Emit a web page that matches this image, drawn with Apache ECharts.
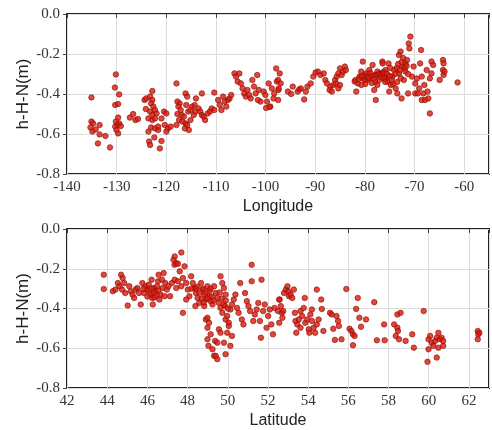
<!DOCTYPE html>
<html>
<head>
<meta charset="utf-8">
<script src="https://cdn.jsdelivr.net/npm/echarts@6/dist/echarts.min.js"></script>
<style>
  html, body { margin: 0; padding: 0; background: #fff; }
  #chart { width: 492px; height: 430px; }
</style>
</head>
<body>
<div id="chart"></div>
<script>
// h-H-N residuals against longitude (top panel), [longitude, value]
var lonPoints = [
  [-130.16,-0.302],[-135.08,-0.417],[-130.35,-0.368],[-129.5,-0.402],[-130.29,-0.455],[-129.7,-0.45],
  [-135.08,-0.538],[-134.75,-0.547],[-135.28,-0.567],[-134.88,-0.588],[-134.23,-0.577],[-133.44,-0.555],
  [-133.44,-0.602],[-132.26,-0.61],[-133.77,-0.647],[-131.34,-0.667],
  [-130.16,-0.538],[-129.83,-0.555],[-130.29,-0.563],[-129.5,-0.547],[-129.17,-0.56],[-130.03,-0.58],[-129.7,-0.518],[-129.7,-0.597],
  [-127.34,-0.518],[-126.68,-0.5],[-126.22,-0.53],[-125.7,-0.525],
  [-124.38,-0.43],[-124.06,-0.422],[-124.12,-0.475],
  [-122.81,-0.385],[-123.27,-0.413],[-122.81,-0.43],[-123.07,-0.447],[-122.61,-0.463],[-123.27,-0.488],[-122.28,-0.48],
  [-122.81,-0.505],[-123.6,-0.522],[-121.96,-0.497],[-122.81,-0.53],[-122.28,-0.522],
  [-123.6,-0.588],[-123.07,-0.567],[-122.28,-0.572],[-121.63,-0.58],
  [-123.46,-0.638],[-123.27,-0.655],[-122.41,-0.617],[-121.3,-0.672],[-120.97,-0.635],
  [-121.63,-0.563],[-120.97,-0.522],[-120.45,-0.488],[-119.99,-0.497],[-120.31,-0.555],[-119.66,-0.572],[-119.99,-0.588],[-119.13,-0.563],
  [-117.95,-0.347],[-117.76,-0.438],[-117.3,-0.447],[-117.56,-0.463],[-117.1,-0.48],[-117.76,-0.5],[-116.9,-0.505],[-117.43,-0.53],
  [-117.95,-0.555],[-116.77,-0.538],[-116.44,-0.513],[-116.12,-0.547],[-116.25,-0.572],[-115.46,-0.58],[-115.79,-0.555],[-115.13,-0.53],
  [-115.59,-0.488],[-115.98,-0.455],[-116.12,-0.397],[-115.79,-0.413],[-114.8,-0.463],[-115.13,-0.48],[-114.47,-0.505],[-114.15,-0.488],
  [-114.02,-0.422],[-114.28,-0.455],[-113.49,-0.472],[-113.16,-0.488],[-112.83,-0.505],[-112.18,-0.53],[-112.5,-0.513],[-111.65,-0.497],
  [-111.2,-0.488],[-110.87,-0.472],[-110.34,-0.48],[-112.83,-0.397],[-110.34,-0.393],[-109.56,-0.43],[-109.23,-0.455],[-108.9,-0.48],
  [-108.57,-0.413],[-108.24,-0.438],[-107.91,-0.463],[-107.59,-0.43],[-107.26,-0.422],[-106.93,-0.405],
  [-106.27,-0.297],[-105.95,-0.313],[-105.62,-0.338],[-105.29,-0.297],[-104.96,-0.347],[-104.63,-0.372],[-104.3,-0.397],
  [-103.98,-0.413],[-103.65,-0.38],[-103.32,-0.405],[-102.99,-0.422],[-102.66,-0.33],[-102.33,-0.363],[-102.0,-0.397],
  [-101.68,-0.305],[-101.55,-0.43],[-101.02,-0.438],[-101.35,-0.38],[-100.37,-0.388],[-100.04,-0.405],[-99.71,-0.438],
  [-99.38,-0.347],[-99.05,-0.463],[-98.73,-0.372],[-98.4,-0.422],[-97.87,-0.272],[-97.74,-0.338],[-97.41,-0.38],[-98.27,-0.397],
  [-99.9,-0.47],[-99.2,-0.465],
  [-97.15,-0.297],[-97.48,-0.33],[-96.96,-0.347],[-97.35,-0.372],[-97.48,-0.43],[-95.51,-0.388],[-94.86,-0.4],[-94.53,-0.363],
  [-93.54,-0.388],[-93.21,-0.377],[-92.89,-0.372],[-92.23,-0.427],[-91.9,-0.388],[-91.57,-0.363],[-90.92,-0.347],[-90.39,-0.313],
  [-89.93,-0.293],[-89.47,-0.288],[-88.95,-0.305],[-88.29,-0.297],[-87.97,-0.33],[-87.64,-0.347],[-86.98,-0.363],[-87.11,-0.38],
  [-86.65,-0.388],[-86.33,-0.355],[-86.0,-0.33],[-85.67,-0.313],[-85.34,-0.297],[-85.01,-0.272],[-84.68,-0.305],[-84.36,-0.288],
  [-84.03,-0.263],[-83.83,-0.28],[-85.8,-0.347],[-85.34,-0.372],[-85.01,-0.355],
  [-82.06,-0.338],[-81.73,-0.388],[-81.4,-0.347],[-81.08,-0.313],[-80.75,-0.288],[-80.42,-0.238],[-80.29,-0.322],[-80.09,-0.305],
  [-79.76,-0.297],[-79.44,-0.33],[-79.11,-0.28],[-78.78,-0.313],[-78.45,-0.255],[-78.12,-0.38],[-77.93,-0.305],[-77.8,-0.43],
  [-77.47,-0.288],[-77.14,-0.33],[-76.81,-0.297],[-76.48,-0.238],[-76.15,-0.322],[-75.83,-0.28],
  [-81.9,-0.33],[-81.2,-0.325],[-80.6,-0.31],[-80.0,-0.33],[-79.6,-0.315],[-79.2,-0.32],[-78.9,-0.295],[-78.5,-0.31],[-78.2,-0.325],
  [-77.9,-0.34],[-77.6,-0.305],[-77.2,-0.3],[-76.9,-0.315],[-76.6,-0.3],[-76.3,-0.29],[-79.9,-0.35],[-80.7,-0.355],[-78.6,-0.345],[-77.5,-0.355],
  [-76.42,-0.247],[-76.09,-0.297],[-75.76,-0.322],[-75.44,-0.338],[-75.11,-0.388],[-74.78,-0.355],[-75.24,-0.247],[-74.45,-0.313],
  [-74.12,-0.28],[-73.8,-0.372],[-73.47,-0.397],[-73.14,-0.297],[-73.14,-0.205],[-72.81,-0.188],[-72.61,-0.422],[-72.48,-0.263],
  [-72.15,-0.33],[-71.83,-0.247],[-71.83,-0.288],[-71.5,-0.23],[-71.3,-0.397],[-71.17,-0.147],[-71.04,-0.172],[-70.84,-0.113],
  [-70.51,-0.313],[-70.19,-0.263],[-69.86,-0.347],[-69.86,-0.397],[-69.53,-0.322],[-69.33,-0.397],[-69.07,-0.372],[-68.87,-0.247],
  [-68.68,-0.18],[-68.55,-0.43],[-68.55,-0.313],[-68.22,-0.397],[-68.02,-0.355],[-67.89,-0.43],[-67.56,-0.28],[-67.37,-0.388],
  [-67.23,-0.422],[-66.91,-0.322],[-66.91,-0.497],[-66.58,-0.238],[-66.58,-0.297],[-66.25,-0.255],[-64.94,-0.33],[-64.28,-0.23],
  [-64.15,-0.247],[-64.28,-0.28],[-64.15,-0.305],[-63.95,-0.288],[-61.33,-0.342],
  [-76.2,-0.32],[-75.9,-0.34],[-75.5,-0.3],[-75.0,-0.31],[-74.6,-0.33],[-74.3,-0.35],[-73.9,-0.3],[-73.6,-0.27],[-73.3,-0.25],
  [-72.9,-0.28],[-72.6,-0.24],[-72.3,-0.22],[-72.0,-0.27],[-71.6,-0.26],[-71.3,-0.3],[-74.9,-0.27],[-73.5,-0.34],[-72.8,-0.32]
];

// same residuals against latitude (bottom panel), [latitude, value]
var latPoints = [
  [43.83,-0.23],[43.83,-0.302],[44.28,-0.313],[44.41,-0.305],[44.53,-0.272],[44.61,-0.288],[44.69,-0.23],[44.77,-0.247],
  [44.85,-0.272],[44.74,-0.305],[44.9,-0.322],[45.02,-0.385],[45.1,-0.288],[45.18,-0.313],[45.26,-0.33],[45.34,-0.347],
  [45.42,-0.305],[45.5,-0.297],[45.59,-0.322],[45.67,-0.38],[45.75,-0.272],[45.83,-0.322],[45.91,-0.288],[45.99,-0.305],
  [46.07,-0.28],[46.16,-0.33],[46.21,-0.255],[46.24,-0.347],[46.27,-0.38],[46.32,-0.297],[46.4,-0.313],[46.48,-0.288],
  [46.53,-0.263],[46.56,-0.23],[46.6,-0.355],[46.65,-0.33],[46.73,-0.255],[46.76,-0.297],[46.81,-0.222],[46.86,-0.338],
  [46.89,-0.272],[46.97,-0.305],[47.05,-0.288],[47.13,-0.338],[47.22,-0.272],[47.3,-0.155],[47.35,-0.18],
  [46.1,-0.31],[46.3,-0.32],[46.45,-0.335],[46.2,-0.3],[46.55,-0.31],[46.35,-0.345],[45.8,-0.3],[46.0,-0.34],
  [47.36,-0.138],[47.69,-0.118],[47.44,-0.172],[47.52,-0.175],[47.85,-0.188],[47.61,-0.213],[47.36,-0.255],[47.52,-0.263],
  [47.77,-0.247],[47.44,-0.297],[47.69,-0.288],[47.93,-0.272],[48.01,-0.305],[48.09,-0.338],[47.93,-0.355],[48.18,-0.238],
  [48.26,-0.272],[48.34,-0.297],[48.42,-0.322],[48.5,-0.347],[48.58,-0.372],[48.39,-0.388],[48.67,-0.272],[48.75,-0.305],
  [48.83,-0.33],[48.91,-0.355],[48.99,-0.288],[49.07,-0.338],[49.15,-0.363],[49.24,-0.38],[48.83,-0.388],[49.32,-0.288],
  [49.4,-0.322],[49.48,-0.347],[49.56,-0.372],[49.64,-0.238],[49.73,-0.272],[49.81,-0.297],[49.89,-0.33],[49.64,-0.397],
  [49.73,-0.422],[49.86,-0.388],[49.89,-0.455],[49.97,-0.438],[50.05,-0.472],[50.13,-0.405],[50.21,-0.38],[50.3,-0.355],
  [50.38,-0.33],[50.46,-0.397],[50.54,-0.422],[50.62,-0.272],[50.7,-0.455],[50.78,-0.48],[50.86,-0.322],[50.95,-0.363],
  [51.03,-0.388],[51.11,-0.413],[51.19,-0.18],[51.19,-0.263],[51.27,-0.463],[51.35,-0.43],[51.44,-0.405],[51.52,-0.372],
  [51.6,-0.463],[51.65,-0.547],[51.68,-0.255],[51.76,-0.413],[51.84,-0.38],[51.93,-0.497],[52.01,-0.438],[52.09,-0.405],
  [52.17,-0.48],[52.25,-0.53],[52.33,-0.397],[52.5,-0.413],[52.58,-0.355],
  [48.91,-0.455],[48.99,-0.497],[49.07,-0.472],[48.99,-0.555],[49.04,-0.588],[49.15,-0.53],[49.24,-0.605],[49.32,-0.638],
  [49.37,-0.563],[49.48,-0.572],[49.56,-0.505],[49.64,-0.522],[49.81,-0.572],[49.89,-0.63],[49.97,-0.522],[50.05,-0.488],
  [50.13,-0.588],[50.21,-0.538],[47.77,-0.422],[48.99,-0.447],[49.48,-0.655],[49.4,-0.638],
  [48.6,-0.32],[48.7,-0.35],[48.8,-0.3],[48.9,-0.32],[49.0,-0.35],[49.1,-0.31],[49.2,-0.34],[49.3,-0.36],[48.5,-0.29],
  [49.7,-0.35],[49.8,-0.38],[49.9,-0.36],[50.0,-0.4],[49.6,-0.32],[48.4,-0.3],[48.2,-0.3],[48.8,-0.37],[49.15,-0.3],
  [52.56,-0.355],[52.64,-0.388],[52.69,-0.422],[52.72,-0.447],[52.8,-0.322],[52.89,-0.305],[52.97,-0.288],[53.02,-0.313],
  [53.05,-0.338],[53.13,-0.33],[53.21,-0.347],[53.29,-0.305],[52.56,-0.472],[52.76,-0.413],[53.34,-0.422],[53.37,-0.463],
  [53.46,-0.48],[53.41,-0.522],[53.54,-0.455],[53.62,-0.497],[53.62,-0.413],[53.7,-0.438],[53.78,-0.397],[53.83,-0.347],
  [53.86,-0.472],[53.95,-0.455],[54.03,-0.505],[54.06,-0.522],[54.11,-0.43],[54.19,-0.463],[54.19,-0.405],[54.27,-0.497],
  [54.35,-0.522],[54.43,-0.305],[54.43,-0.48],[54.52,-0.455],[54.65,-0.355],[54.68,-0.402],[54.76,-0.513],[55.09,-0.422],
  [55.17,-0.43],[55.25,-0.502],[55.33,-0.558],[55.41,-0.438],[55.49,-0.463],[55.53,-0.488],[55.66,-0.555],[55.9,-0.302],
  [56.06,-0.502],[56.15,-0.513],[56.23,-0.53],[56.31,-0.538],[56.23,-0.585],[56.39,-0.402],[56.47,-0.347],[56.55,-0.447],
  [56.63,-0.492],[56.88,-0.455],[57.29,-0.368],[57.42,-0.56],[57.78,-0.48],[57.81,-0.56],
  [58.28,-0.48],[58.36,-0.538],[58.44,-0.497],[58.47,-0.513],[58.52,-0.555],[58.44,-0.43],[58.6,-0.422],[58.85,-0.563],
  [59.18,-0.53],[59.26,-0.597],[59.75,-0.413],[59.99,-0.555],[60.07,-0.538],[60.15,-0.572],[60.23,-0.588],[60.32,-0.563],
  [60.4,-0.547],[60.48,-0.522],[60.48,-0.597],[60.56,-0.555],[60.64,-0.547],[60.72,-0.588],[60.72,-0.563],[59.99,-0.605],
  [60.4,-0.647],[59.94,-0.668],[62.44,-0.513],[62.47,-0.53],[62.44,-0.555],[62.52,-0.522]
];

var yLabel = 'h-H-N(m)';
var xNames = ['Longitude', 'Latitude'];

var chart = echarts.init(document.getElementById('chart'));

var tickFont = {
  fontFamily: 'Liberation Serif',
  fontSize: 15,
  color: '#333'
};

function xAxisFor(idx, min, max, step, name) {
  return {
    type: 'value',
    gridIndex: idx,
    min: min,
    max: max,
    interval: step,
    name: name,
    nameLocation: 'middle',
    nameGap: 25,
    nameMoveOverlap: false,
    nameTextStyle: { fontFamily: 'Liberation Sans', fontSize: 16, color: '#222' },
    axisLine: { show: false },
    axisTick: { show: true, length: 4, lineStyle: { color: '#444' } },
    splitLine: { show: true, lineStyle: { color: '#dcdcdc', width: 1 } },
    axisLabel: Object.assign({
      margin: 6,
      formatter: function (v) {
        // hide the label of the clipped end of the axis
        return (Math.abs(Math.round(v / step) * step - v) < 1e-6) ? String(v) : '';
      }
    }, tickFont)
  };
}

function yAxisFor(idx) {
  return {
    type: 'value',
    gridIndex: idx,
    min: -0.8,
    max: 0,
    interval: 0.2,
    name: yLabel,
    nameLocation: 'middle',
    nameGap: 35,
    nameMoveOverlap: false,
    nameTextStyle: { fontFamily: 'Liberation Sans', fontSize: 17, color: '#222' },
    axisLine: { show: false },
    axisTick: { show: true, length: 4, lineStyle: { color: '#444' } },
    splitLine: { show: true, lineStyle: { color: '#dcdcdc', width: 1 } },
    axisLabel: Object.assign({
      margin: 7,
      formatter: function (v) { return v.toFixed(1); }
    }, tickFont)
  };
}

var dotStyle = {
  color: '#d81a0c',
  borderColor: '#8e0e06',
  borderWidth: 0.8
};

chart.setOption({
  animation: false,
  backgroundColor: '#fff',
  grid: [
    { left: 67, top: 14, right: -7, height: 160, show: true, borderColor: '#222', borderWidth: 2, backgroundColor: 'transparent' },
    { left: 67, top: 229, right: -4, height: 160, show: true, borderColor: '#222', borderWidth: 2, backgroundColor: 'transparent' }
  ],
  xAxis: [
    xAxisFor(0, -140, -55, 10, xNames[0]),
    xAxisFor(1, 42, 63, 2, xNames[1])
  ],
  yAxis: [yAxisFor(0), yAxisFor(1)],
  series: [
    {
      type: 'scatter',
      xAxisIndex: 0,
      yAxisIndex: 0,
      symbolSize: 5.5,
      itemStyle: dotStyle,
      data: lonPoints
    },
    {
      type: 'scatter',
      xAxisIndex: 1,
      yAxisIndex: 1,
      symbolSize: 5.5,
      itemStyle: dotStyle,
      data: latPoints
    }
  ]
});
</script>
</body>
</html>
